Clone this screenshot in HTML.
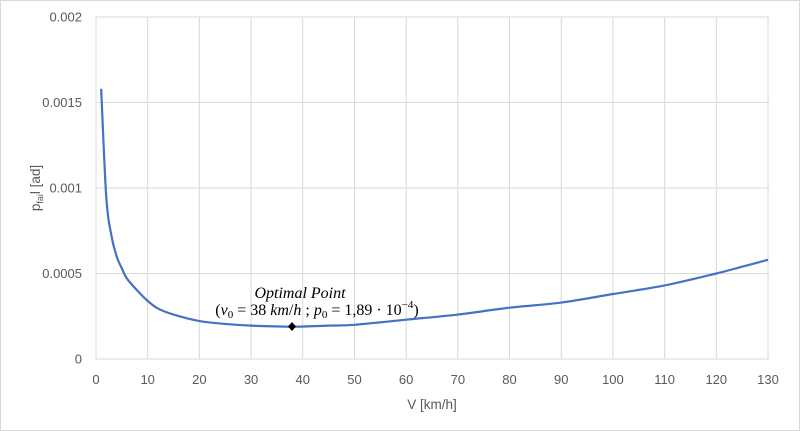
<!DOCTYPE html>
<html><head><meta charset="utf-8"><style>
body{margin:0;background:#fff}
svg{display:block;font-family:"Liberation Sans",sans-serif}
</style></head><body>
<svg id="s" width="800" height="431" xmlns="http://www.w3.org/2000/svg">
<rect x="0.5" y="0.5" width="799" height="430" fill="#fff" stroke="#d9d9d9"/>
<g id="grid" stroke="#d9d9d9" stroke-width="1"></g>
<g id="lab" fill="#595959" font-size="13"></g>
<text x="432" y="409" fill="#595959" font-size="13.5" text-anchor="middle">V [km/h]</text>
<text transform="translate(40,188) rotate(-90)" fill="#595959" font-size="13.5" text-anchor="middle">p<tspan font-size="9" dy="3">fai</tspan><tspan dy="-3">l [ad]</tspan></text>
<path id="curve" fill="none" stroke="#4472c4" stroke-width="2.2" stroke-linejoin="round"/>
<path d="M292,322 L296,326.5 L292,331 L288,326.5 Z" fill="#000"/>
<text x="300" y="298" font-family="'Liberation Serif',serif" font-style="italic" font-size="16" text-anchor="middle">Optimal Point</text>
<text x="317" y="315" font-family="'Liberation Serif',serif" font-size="16" text-anchor="middle">(<tspan font-style="italic">v</tspan><tspan font-size="11" dy="3">0</tspan><tspan dy="-3"> = 38 </tspan><tspan font-style="italic">km</tspan>/<tspan font-style="italic">h</tspan> ; <tspan font-style="italic">p</tspan><tspan font-size="11" dy="3">0</tspan><tspan dy="-3"> = 1,89 · 10</tspan><tspan font-size="11" dy="-7">−4</tspan><tspan dy="7">)</tspan></text>
</svg>
<script>
var X=v=>96+v*(672/130),Y=p=>359-p*171000;
var g=document.getElementById('grid'),l=document.getElementById('lab'),h='',t='';
for(var i=0;i<=13;i++){var x=X(i*10);h+='<line x1="'+x+'" y1="17" x2="'+x+'" y2="359"/>';t+='<text x="'+x+'" y="384" text-anchor="middle">'+(i*10)+'</text>';}
var ys=['0','0.0005','0.001','0.0015','0.002'];
for(var j=0;j<5;j++){var y=Y(j*0.0005);h+='<line x1="96" y1="'+y+'" x2="769" y2="'+y+'"/>';t+='<text x="82" y="'+(y+4.5)+'" text-anchor="end">'+ys[j]+'</text>';}
g.innerHTML=h;l.innerHTML=t;
var P=[[1,.00158],[2,.00094],[3,.00072],[4,.0006],[5,.00053],[6,.00047],[8,.0004],[10,.00034],[12,.000295],[15,.00026],[20,.000222],[25,.000205],[30,.000195],[38,.000189],[45,.000195],[50,.0002],[60,.00023],[70,.00026],[80,.0003],[90,.00033],[100,.00038],[110,.00043],[120,.0005],[125,.00054],[130,.00058]];
var pts=P.map(a=>[X(a[0]),Y(a[1])]),d='M'+pts[0];
for(var k=0;k<pts.length-1;k++){var p0=pts[k-1]||pts[k],p1=pts[k],p2=pts[k+1],p3=pts[k+2]||p2;
d+=' C'+(p1[0]+(p2[0]-p0[0])/6)+','+(p1[1]+(p2[1]-p0[1])/6)+' '+(p2[0]-(p3[0]-p1[0])/6)+','+(p2[1]-(p3[1]-p1[1])/6)+' '+p2[0]+','+p2[1];}
document.getElementById('curve').setAttribute('d',d);
</script>
</body></html>
